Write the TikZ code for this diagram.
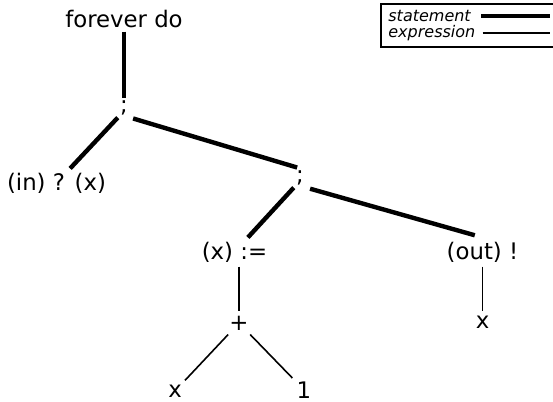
\documentclass[tikz,border=0pt]{standalone}
\usepackage{fontspec}
\setmainfont{DejaVu Sans}[ItalicFont={DejaVu Sans Oblique}]
\usetikzlibrary{positioning,fit}

\begin{document}
\begin{tikzpicture}[
  on grid,
  every node/.style={font=\fontsize{11.4}{13.7}\selectfont},
  word/.style={inner sep=2pt},
  semi/.style={inner sep=1pt},
  stmtline/.style={line width=2.2pt},
  exprline/.style={line width=0.8pt},
  key/.style={font=\fontsize{8}{9.6}\selectfont\itshape, inner sep=0pt, anchor=west}
]
\node[word] (loop) {forever do};
\node[semi, below=44.75pt of loop] (seq1) {;};
\node[word, below left=37.5pt and 33.75pt of seq1] (input) {(in) ? (x)};
\node[semi, below right=35pt and 88pt of seq1] (seq2) {;};
\node[word, below left=37pt and 32.75pt of seq2] (assign) {(x) :=};
\node[word, below right=37pt and 91.25pt of seq2] (output) {(out) !};
\node[word, below right=35.5pt and 2.25pt of assign] (plus) {+};
\node[word, below=35pt of output] (xout) {x};
\node[word, below left=34pt and 32pt of plus] (xvar) {x};
\node[word, below right=33.5pt and 32.5pt of plus] (one) {1};

\draw[stmtline] (loop) -- (seq1);
\draw[stmtline] (seq1.south west) -- (input);
\draw[stmtline, shorten <=1.5pt, shorten >=1.5pt] (seq1.south east) -- (seq2.north);
\draw[stmtline] (seq2.south west) -- (assign);
\draw[stmtline, shorten <=2pt, shorten >=4pt] (seq2.south east) -- (output.north);
\draw[exprline] (assign.south -| plus) -- (plus);
\draw[exprline] (output) -- (xout);
\draw[exprline] (plus) -- (xvar);
\draw[exprline] (plus) -- (one);

% legend
\node[key] (kstmt) at ([xshift=132pt, yshift=1.25pt]loop.center) {statement};
\node[key, below=8.5pt of kstmt.west, anchor=west] (kexpr) {expression};
\coordinate[right=5pt of kstmt.east] (ks0);
\coordinate[right=39.5pt of kstmt.east] (ks1);
\coordinate[right=3.5pt of kexpr.east] (ke0);
\coordinate (ke1) at (ks1 |- kexpr.east);
\draw[stmtline] (ks0) -- (ks1);
\draw[exprline] (ke0) -- (ke1);
\node[draw, line width=0.8pt, fit=(kstmt)(kexpr)(ks1), inner xsep=3.5pt, inner ysep=3pt] (frame) {};

\pgfresetboundingbox
\useasboundingbox ([shift={(-62pt,9.25pt)}]loop.center) rectangle ++(276.5pt,-201pt);
\end{tikzpicture}
\end{document}
